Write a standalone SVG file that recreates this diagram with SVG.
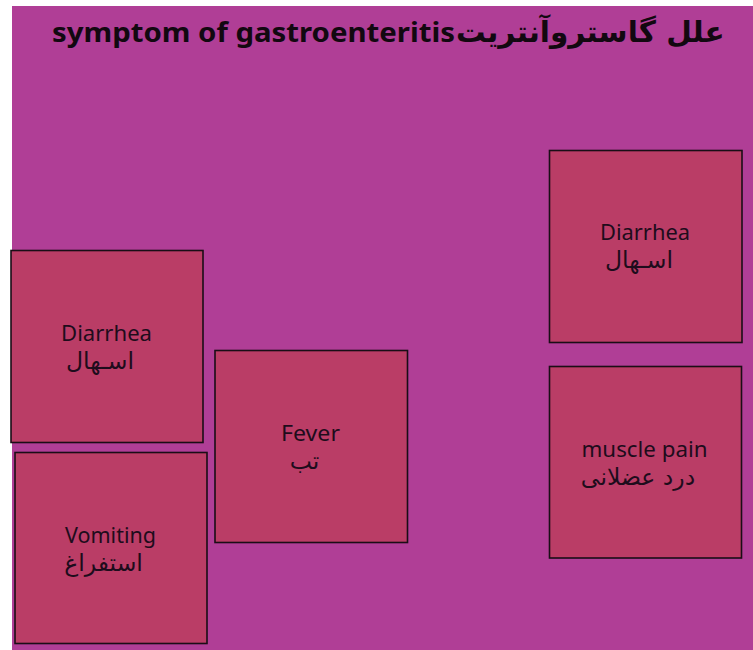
<svg xmlns="http://www.w3.org/2000/svg" width="753" height="650" viewBox="0 0 753 650">
  <style>
    .bg { fill: #B03E96; }
    .box { fill: #BA3D66; stroke: #1a0d16; stroke-width: 1.6; }
    .en { font-family: "Noto Sans", "Open Sans", "DejaVu Sans", sans-serif; font-size: 22px; fill: #1e0c1c; }
    .ar { font-family: "DejaVu Sans", "Noto Sans", sans-serif; font-size: 23.5px; fill: #1e0c1c; text-anchor: middle; }
    .title-en { font-family: "Noto Sans", "Open Sans", "DejaVu Sans", sans-serif; font-size: 27px; font-weight: bold; fill: #120810; }
    .title-ar { font-family: "DejaVu Sans", "Noto Sans", sans-serif; font-size: 29.5px; font-weight: bold; fill: #120810; }
  </style>

  <!-- page -->
  <rect x="0" y="0" width="753" height="650" fill="#ffffff"/>
  <rect class="bg" x="12" y="6" width="741" height="644"/>

  <!-- heading -->
  <g id="title">
    <text class="title-en" x="52" y="42" textLength="403" lengthAdjust="spacingAndGlyphs">symptom of gastroenteritis</text>
    <text class="title-ar" x="456" y="42">علل گاستروآنتریت</text>
  </g>

  <g id="connectors"></g>

  <g id="diarrhea-left">
    <rect class="box" x="11" y="250.5" width="192" height="192"/>
    <text class="en" x="61" y="341" textLength="91" lengthAdjust="spacingAndGlyphs">Diarrhea</text>
    <text class="ar" x="100" y="368.5">اسـهال</text>
  </g>

  <g id="vomiting">
    <rect class="box" x="15" y="452.5" width="192" height="191"/>
    <text class="en" x="65" y="542.5" textLength="91" lengthAdjust="spacingAndGlyphs">Vomiting</text>
    <text class="ar" x="103.5" y="570.5">استفراغ</text>
  </g>

  <g id="fever">
    <rect class="box" x="215" y="350.5" width="192.5" height="192"/>
    <text class="en" x="281" y="441" textLength="59" lengthAdjust="spacingAndGlyphs">Fever</text>
    <text class="ar" x="304.5" y="468.5">تب</text>
  </g>

  <g id="diarrhea-right">
    <rect class="box" x="549.5" y="150.5" width="192.5" height="192"/>
    <text class="en" x="600" y="240" textLength="90" lengthAdjust="spacingAndGlyphs">Diarrhea</text>
    <text class="ar" x="639" y="268">اسـهال</text>
  </g>

  <g id="muscle-pain">
    <rect class="box" x="549.5" y="366.5" width="192" height="191.5"/>
    <text class="en" x="581.5" y="457" textLength="126" lengthAdjust="spacingAndGlyphs">muscle pain</text>
    <text class="ar" x="638" y="484.5">درد عضلانی</text>
  </g>
</svg>
